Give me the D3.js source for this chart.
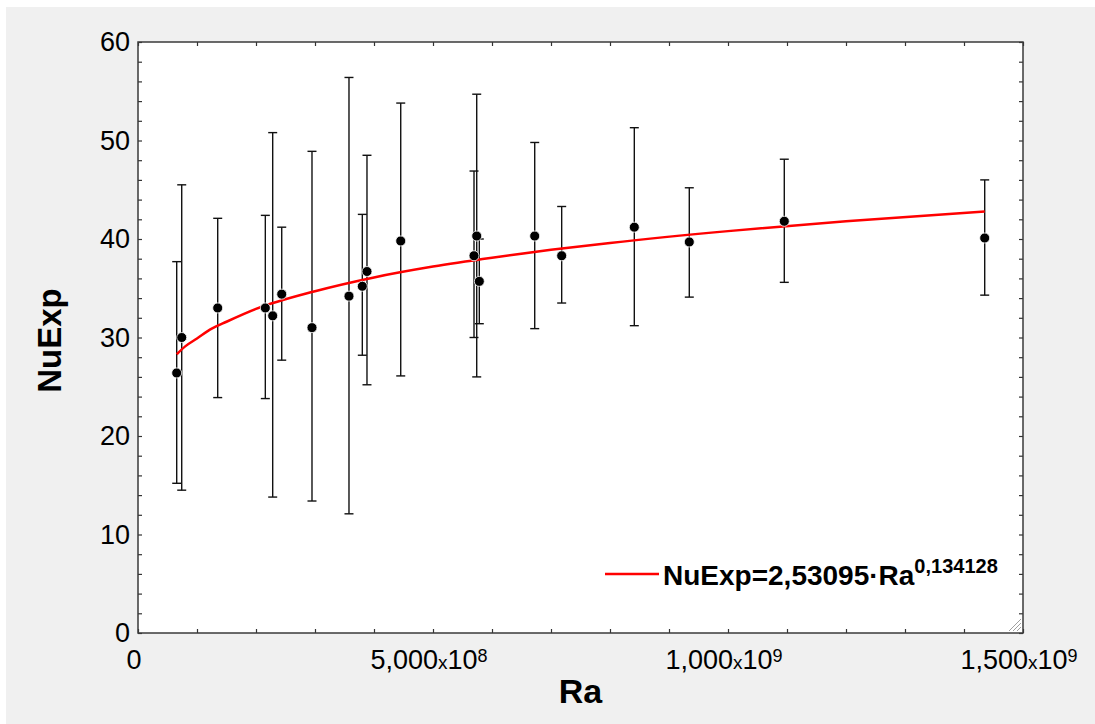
<!DOCTYPE html>
<html>
<head>
<meta charset="utf-8">
<script src="https://cdn.jsdelivr.net/npm/d3@7"></script>
<style>
  body { margin: 0; background: #ffffff; }
  svg { display: block; font-family: "Liberation Sans", Arial, sans-serif; }
</style>
</head>
<body>
<script>
// Ra values in units of 1e8
const ra = [0.656, 0.741, 1.351, 2.158, 2.283, 2.436, 2.949, 3.576, 3.802, 3.881,
            4.453, 5.695, 5.741, 5.785, 6.724, 7.181, 8.412, 9.344, 10.954, 14.351];
const nuExp = [26.4, 30.0, 33.0, 33.0, 32.2, 34.4, 31.0, 34.2, 35.2, 36.7,
               39.8, 38.3, 40.3, 35.7, 40.3, 38.3, 41.2, 39.7, 41.8, 40.1];
const errLow = [15.2, 14.5, 23.9, 23.8, 13.8, 27.7, 13.4, 12.1, 28.2, 25.2,
                26.1, 30.0, 26.0, 31.4, 30.9, 33.5, 31.2, 34.1, 35.6, 34.3];
const errHigh = [37.7, 45.5, 42.1, 42.4, 50.8, 41.2, 48.9, 56.4, 42.5, 48.5,
                 53.8, 46.9, 54.7, 40.0, 49.8, 43.3, 51.3, 45.2, 48.1, 46.0];

// fitted curve
const fitRa = [0.656, 0.8, 1.0, 1.25, 1.5, 2.0, 3.0, 4.0, 5.0, 6.0, 7.0, 8.0, 10.0, 12.0, 14.351];
const fitNu = [28.3, 29.1, 29.9, 30.9, 31.6, 32.9, 34.7, 36.1, 37.2, 38.1, 38.9, 39.6, 40.8, 41.8, 42.8];

const xTickVals = [0, 5, 10, 15];
const xTickMant = ["0", "5,000", "1,000", "1,500"];
const xTickExp = [null, "8", "9", "9"];
const yTickVals = [0, 10, 20, 30, 40, 50, 60];

const W = 1095, H = 724;
const plot = {left: 138, right: 1023, top: 42, bottom: 633};

const svg = d3.select("body").append("svg")
  .attr("width", W)
  .attr("height", H);

svg.append("rect").attr("x", 6).attr("y", 7)
  .attr("width", W - 6).attr("height", H - 7)
  .attr("fill", "#f0f0f0");

svg.append("rect")
  .attr("x", plot.left).attr("y", plot.top)
  .attr("width", plot.right - plot.left).attr("height", plot.bottom - plot.top)
  .attr("fill", "#ffffff");

const xScale = d3.scaleLinear().domain([0, 15]).range([plot.left, plot.right]);
const yScale = d3.scaleLinear().domain([0, 60]).range([plot.bottom, plot.top]);

const xMinor = d3.range(0, 15.01, 1);
const yMinor = d3.range(0, 60.01, 2);

// inward ticks on all four sides
svg.append("g").attr("transform", `translate(0,${plot.bottom})`)
  .call(d3.axisBottom(xScale).tickValues(xMinor).tickSize(-4).tickFormat(""))
  .call(g => g.select(".domain").remove());
svg.append("g").attr("transform", `translate(0,${plot.top})`)
  .call(d3.axisTop(xScale).tickValues(xMinor).tickSize(-4).tickFormat(""))
  .call(g => g.select(".domain").remove());
svg.append("g").attr("transform", `translate(${plot.left},0)`)
  .call(d3.axisLeft(yScale).tickValues(yMinor).tickSize(-4)
    .tickFormat(d => yTickVals.includes(d) ? d : "").tickPadding(8))
  .call(g => g.select(".domain").remove())
  .call(g => g.selectAll("text")
    .attr("font-size", 27).attr("fill", "#000").attr("font-family", "Liberation Sans, Arial"));
svg.append("g").attr("transform", `translate(${plot.right},0)`)
  .call(d3.axisRight(yScale).tickValues(yMinor).tickSize(-4).tickFormat(""))
  .call(g => g.select(".domain").remove());

svg.selectAll(".tick line").attr("stroke", "#333").attr("stroke-width", 1.2);

// x tick labels with exponent
const xl = svg.append("g").selectAll("text")
  .data(xTickVals)
  .enter()
  .append("text")
  .attr("x", d => xScale(d) - 4)
  .attr("y", 669)
  .attr("text-anchor", "middle")
  .attr("font-size", 27)
  .attr("fill", "#000");
xl.append("tspan").text((d, i) => xTickMant[i]);
xl.filter((d, i) => xTickExp[i] != null).each(function(d) {
  const i = xTickVals.indexOf(d);
  const t = d3.select(this);
  t.append("tspan").attr("font-size", 19).text("x");
  t.append("tspan").text("10");
  t.append("tspan").attr("font-size", 18).attr("dy", -7).text(xTickExp[i]);
});

// axis titles
svg.append("text")
  .attr("x", (plot.left + plot.right) / 2)
  .attr("y", 703)
  .attr("text-anchor", "middle")
  .attr("font-size", 34)
  .attr("font-weight", "bold")
  .text("Ra");

svg.append("text")
  .attr("transform", `translate(61,${(plot.top + plot.bottom) / 2 + 3}) rotate(-90)`)
  .attr("text-anchor", "middle")
  .attr("font-size", 33)
  .attr("font-weight", "bold")
  .text("NuExp");

// error bars
const bars = svg.append("g").attr("stroke", "#111").attr("stroke-width", 1.4);
ra.forEach((r, i) => {
  const x = xScale(r);
  bars.append("line").attr("x1", x).attr("x2", x)
    .attr("y1", yScale(errLow[i])).attr("y2", yScale(errHigh[i]));
  bars.append("line").attr("x1", x - 4.5).attr("x2", x + 4.5)
    .attr("y1", yScale(errLow[i])).attr("y2", yScale(errLow[i]));
  bars.append("line").attr("x1", x - 4.5).attr("x2", x + 4.5)
    .attr("y1", yScale(errHigh[i])).attr("y2", yScale(errHigh[i]));
});

// fit line
const fitLine = d3.line()
  .x((d, i) => xScale(fitRa[i]))
  .y(d => yScale(d))
  .curve(d3.curveMonotoneX);

svg.append("path")
  .attr("d", fitLine(fitNu))
  .attr("fill", "none")
  .attr("stroke", "#ff0000")
  .attr("stroke-width", 2.5);

// points
svg.append("g").selectAll("circle")
  .data(nuExp)
  .enter()
  .append("circle")
  .attr("cx", (d, i) => xScale(ra[i]))
  .attr("cy", d => yScale(d))
  .attr("r", 5)
  .attr("fill", "#000")
  .attr("stroke", "#fff")
  .attr("stroke-width", 0.8);

// legend
svg.append("line")
  .attr("x1", 605).attr("x2", 659).attr("y1", 574).attr("y2", 574)
  .attr("stroke", "#ff0000").attr("stroke-width", 2.5);
const lt = svg.append("text")
  .attr("x", 663).attr("y", 585)
  .attr("font-size", 28)
  .attr("font-weight", "bold");
lt.append("tspan").text("NuExp=2,53095\u00b7Ra");
lt.append("tspan").attr("font-size", 20).attr("dy", -12).text("0,134128");

// plot frame
svg.append("rect")
  .attr("x", plot.left).attr("y", plot.top)
  .attr("width", plot.right - plot.left).attr("height", plot.bottom - plot.top)
  .attr("fill", "none")
  .attr("stroke", "#3a3a3a")
  .attr("stroke-width", 1.5);

// resize grip in the corner
const grip = svg.append("g").attr("stroke", "#a0a0a0").attr("stroke-width", 1);
[4, 8, 12].forEach(k => {
  grip.append("line")
    .attr("x1", plot.right - 2 - k).attr("y1", plot.bottom - 2)
    .attr("x2", plot.right - 2).attr("y2", plot.bottom - 2 - k);
});
</script>
</body>
</html>
